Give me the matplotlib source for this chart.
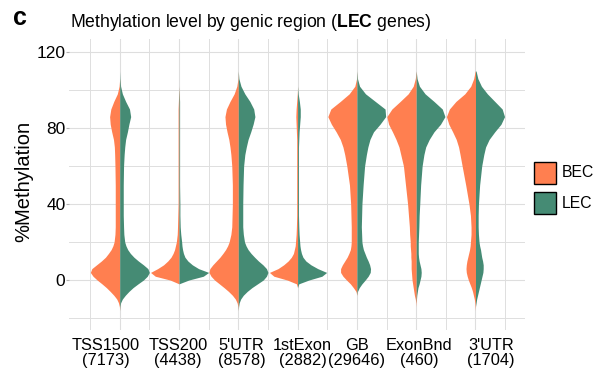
import numpy as np
import matplotlib
matplotlib.use("Agg")
import matplotlib.pyplot as plt
from matplotlib.patches import Rectangle
from matplotlib.transforms import ScaledTranslation

plt.rcParams['font.family'] = ['Liberation Sans', 'DejaVu Sans']
plt.rcParams['mathtext.fontset'] = 'custom'
plt.rcParams['mathtext.rm'] = 'Liberation Sans'
plt.rcParams['mathtext.bf'] = 'Liberation Sans:bold'

regions = ["TSS1500", "TSS200", "5'UTR", "1stExon", "GB", "ExonBnd", "3'UTR"]
counts = [7173, 4438, 8578, 2882, 29646, 460, 1704]
groups = ["BEC", "LEC"]
colors = ["#FF7F50", "#458B74"]

# %methylation levels at which the violin widths were read
y_grid = [-16, -14, -12, -10, -8, -6, -4, -2,
          0, 2, 4, 6, 8, 10, 12, 14, 16, 18, 20,
          24, 28, 34, 40, 50, 60,
          66, 70, 74, 78, 82, 86, 90, 94, 98, 102, 106, 110]

# relative density (1 = widest point of that half violin)
bec_tss1500 = [0, 0.01, 0.04, 0.1, 0.2, 0.32, 0.45, 0.6,
               0.76, 0.9, 0.99, 0.94, 0.78, 0.62, 0.48, 0.38, 0.29, 0.23, 0.19,
               0.16, 0.15, 0.15, 0.15, 0.15, 0.16,
               0.17, 0.18, 0.21, 0.27, 0.32, 0.34, 0.3, 0.2, 0.08, 0.02, 0, 0]
lec_tss1500 = [0, 0.01, 0.03, 0.09, 0.19, 0.31, 0.45, 0.62,
               0.8, 0.93, 1.0, 0.95, 0.8, 0.63, 0.48, 0.36, 0.27, 0.21, 0.17,
               0.14, 0.13, 0.12, 0.12, 0.12, 0.13,
               0.15, 0.17, 0.2, 0.26, 0.31, 0.37, 0.33, 0.2, 0.09, 0.03, 0.01, 0]
bec_tss200 = [0, 0, 0, 0, 0, 0, 0, 0,
              0.3, 0.8, 0.96, 0.72, 0.52, 0.38, 0.27, 0.2, 0.15, 0.12, 0.09,
              0.06, 0.05, 0.04, 0.03, 0.03, 0.03,
              0.03, 0.03, 0.03, 0.03, 0.03, 0.03, 0.03, 0.02, 0.01, 0, 0, 0]
lec_tss200 = [0, 0, 0, 0, 0, 0, 0, 0,
              0.33, 0.82, 1.0, 0.66, 0.45, 0.3, 0.2, 0.15, 0.12, 0.1, 0.09,
              0.06, 0.04, 0.03, 0.03, 0.02, 0.02,
              0.02, 0.02, 0.02, 0.02, 0.02, 0.02, 0.02, 0.02, 0.01, 0, 0, 0]
bec_utr5 = [0, 0.01, 0.04, 0.1, 0.2, 0.33, 0.48, 0.64,
            0.8, 0.92, 0.99, 0.96, 0.86, 0.74, 0.62, 0.52, 0.43, 0.36, 0.31,
            0.25, 0.22, 0.21, 0.2, 0.2, 0.22,
            0.25, 0.28, 0.32, 0.38, 0.43, 0.45, 0.4, 0.28, 0.14, 0.05, 0.01, 0]
lec_utr5 = [0, 0.01, 0.03, 0.08, 0.17, 0.3, 0.46, 0.65,
            0.84, 0.95, 1.0, 0.95, 0.83, 0.68, 0.55, 0.43, 0.33, 0.26, 0.21,
            0.17, 0.15, 0.15, 0.15, 0.16, 0.18,
            0.22, 0.27, 0.33, 0.42, 0.5, 0.56, 0.52, 0.39, 0.22, 0.09, 0.02, 0]
bec_exon1 = [0, 0, 0, 0, 0, 0, 0, 0.04,
             0.35, 0.8, 0.95, 0.66, 0.47, 0.32, 0.21, 0.14, 0.11, 0.08, 0.07,
             0.05, 0.04, 0.03, 0.03, 0.03, 0.03,
             0.03, 0.03, 0.03, 0.04, 0.05, 0.06, 0.05, 0.03, 0.01, 0, 0, 0]
lec_exon1 = [0, 0, 0, 0, 0, 0, 0, 0.04,
             0.38, 0.82, 0.98, 0.68, 0.45, 0.28, 0.18, 0.13, 0.1, 0.08, 0.07,
             0.05, 0.04, 0.03, 0.03, 0.03, 0.03,
             0.03, 0.03, 0.04, 0.05, 0.07, 0.09, 0.09, 0.06, 0.02, 0, 0, 0]
bec_gb = [0, 0, 0, 0, 0, 0.03, 0.12, 0.22,
          0.35, 0.47, 0.55, 0.55, 0.49, 0.41, 0.33, 0.27, 0.22, 0.2, 0.19,
          0.19, 0.19, 0.2, 0.21, 0.25, 0.34,
          0.41, 0.47, 0.56, 0.7, 0.86, 0.98, 0.88, 0.56, 0.26, 0.07, 0.01, 0]
lec_gb = [0, 0, 0, 0, 0, 0.02, 0.08, 0.17,
          0.28, 0.38, 0.45, 0.46, 0.43, 0.38, 0.32, 0.27, 0.22, 0.19, 0.17,
          0.16, 0.15, 0.16, 0.17, 0.21, 0.26,
          0.32, 0.37, 0.44, 0.56, 0.78, 0.97, 0.95, 0.62, 0.29, 0.09, 0.02, 0]
bec_exonbnd = [0, 0, 0.01, 0.03, 0.06, 0.08, 0.1, 0.12,
               0.14, 0.15, 0.16, 0.17, 0.17, 0.17, 0.18, 0.18, 0.19, 0.2, 0.2,
               0.22, 0.23, 0.26, 0.29, 0.36, 0.43,
               0.52, 0.58, 0.68, 0.8, 0.93, 0.99, 0.82, 0.54, 0.27, 0.1, 0.03, 0]
lec_exonbnd = [0, 0, 0, 0.01, 0.02, 0.04, 0.06, 0.1,
               0.13, 0.16, 0.17, 0.16, 0.13, 0.1, 0.08, 0.07, 0.07, 0.07, 0.07,
               0.08, 0.09, 0.1, 0.12, 0.15, 0.2,
               0.26, 0.32, 0.44, 0.6, 0.82, 0.97, 0.88, 0.6, 0.3, 0.11, 0.03, 0]
bec_utr3 = [0, 0.01, 0.02, 0.04, 0.07, 0.1, 0.14, 0.19,
            0.24, 0.28, 0.31, 0.32, 0.31, 0.29, 0.26, 0.23, 0.2, 0.18, 0.17,
            0.15, 0.15, 0.17, 0.22, 0.33, 0.45,
            0.52, 0.57, 0.65, 0.77, 0.9, 0.98, 0.88, 0.66, 0.36, 0.16, 0.06, 0.01]
lec_utr3 = [0, 0, 0.02, 0.04, 0.07, 0.1, 0.13, 0.16,
            0.19, 0.22, 0.25, 0.26, 0.26, 0.24, 0.21, 0.19, 0.17, 0.14, 0.12,
            0.1, 0.09, 0.09, 0.1, 0.14, 0.21,
            0.28, 0.34, 0.46, 0.65, 0.86, 0.98, 0.9, 0.65, 0.4, 0.2, 0.08, 0.02]

bec = [bec_tss1500, bec_tss200, bec_utr5, bec_exon1, bec_gb, bec_exonbnd, bec_utr3]
lec = [lec_tss1500, lec_tss200, lec_utr5, lec_exon1, lec_gb, lec_exonbnd, lec_utr3]

# the region labels are not quite centred under their violins in the original
label_shift_px = [-13.7, -1, 3.4, 4.8, 0, 2.6, 15.5]


def px(x):
    return x / 596


def py(y):
    return 1 - y / 374


fig = plt.figure(figsize=(5.96, 3.74), dpi=100)
ax = fig.add_axes([px(69.3), py(330), px(525 - 69.3), (330 - 39.3) / 374])

y = np.array(y_grid)
half = 0.5
for i in range(len(regions)):
    wb = np.array(bec[i]) * half
    wl = np.array(lec[i]) * half
    ax.fill_betweenx(y, i - wb, i, color=colors[0], lw=0, zorder=2)
    ax.fill_betweenx(y, i, i + wl, color=colors[1], lw=0, zorder=2)

ax.set_xlim(-0.85, 6.835)
ax.set_ylim(-26.3, 126.7)

ax.set_xticks(range(len(regions)))
ax.set_xticklabels([])
ax.set_xticks(np.arange(-0.5, 7, 1), minor=True)
ax.set_yticks([0, 40, 80, 120])
ax.set_yticks([-20, 20, 60, 100], minor=True)
ax.tick_params(axis='y', which='major', length=2.0, width=0.8, color='#B3B3B3',
               pad=0.8, labelsize=12.5)
ax.tick_params(axis='y', which='minor', length=0)
ax.tick_params(axis='x', which='both', length=0)
ax.grid(which='major', color='#DEDEDE', lw=0.8)
ax.grid(which='minor', color='#DEDEDE', lw=0.7)
ax.set_axisbelow(True)
for s in ax.spines.values():
    s.set_visible(False)

xtrans = ax.get_xaxis_transform()
for i, (r, n) in enumerate(zip(regions, counts)):
    off = ScaledTranslation(label_shift_px[i] / 100, -8.5 / 100, fig.dpi_scale_trans)
    ax.text(i, 0, f"{r}\n({n})", transform=xtrans + off, ha='center', va='top',
            fontsize=11.8, linespacing=0.95, multialignment='center')

fig.text(px(33.5), py(181), '%Methylation', rotation=90, ha='right', va='center',
         fontsize=14.5)
fig.text(px(70), py(26.7), r'Methylation level by genic region ($\mathbf{LEC}$ genes)',
         ha='left', va='baseline', fontsize=12.7)
fig.text(px(13), py(25), 'c', ha='left', va='baseline', fontsize=18, weight='bold')

# legend
box = 21.7
for k, (g, c) in enumerate(zip(groups, colors)):
    top = 162 + k * 30.3
    fig.add_artist(Rectangle((px(534), py(top + box)), px(box), box / 374,
                             transform=fig.transFigure, fc=c, ec='black', lw=1.0))
    fig.text(px(561.7), py(top + box / 2), g, ha='left', va='center', fontsize=11.3)

fig.savefig('out.png', dpi=100)
